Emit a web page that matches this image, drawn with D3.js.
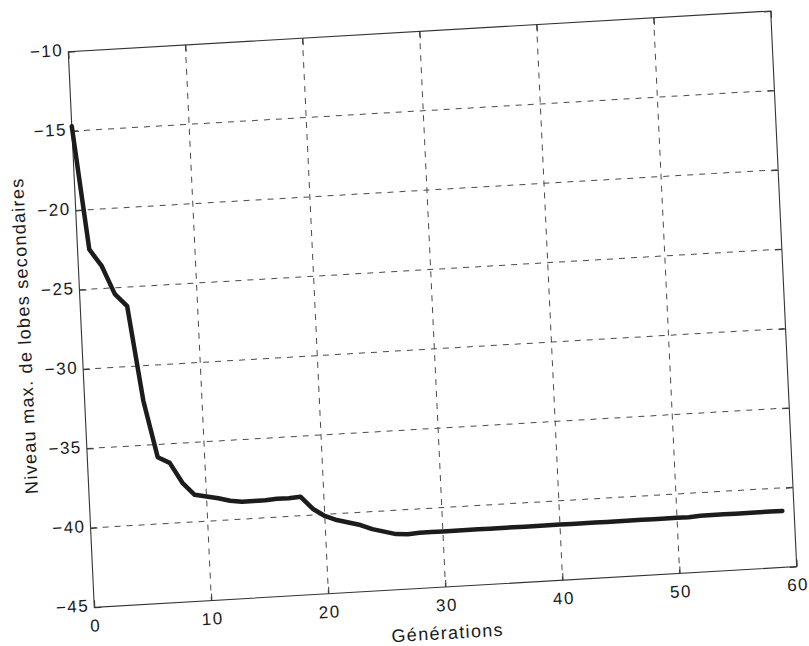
<!DOCTYPE html>
<html>
<head>
<meta charset="utf-8">
<script src="https://cdn.jsdelivr.net/npm/d3@7"></script>
<style>
  html, body { margin: 0; padding: 0; background: #ffffff; }
  svg { display: block; }
  text { font-family: "Liberation Sans", Arial, Helvetica, sans-serif; fill: #1a1a1a; }
</style>
</head>
<body>
<svg id="chart" width="809" height="646"></svg>
<script>
// ---- data ----
const generations = [0,1,2,3,4,5,6,7,8,9,10,11,12,13,14,15,16,17,18,19,20,21,22,23,24,25,26,27,28,29,
  30,31,32,33,34,35,36,37,38,39,40,41,42,43,44,45,46,47,48,49,50,51,52,53,54,55,56,57,58,59];
const sidelobeLevel = [-14.7,-22.5,-23.6,-25.4,-26.2,-32.2,-35.8,-36.2,-37.5,-38.3,
  -38.45,-38.6,-38.8,-38.9,-38.9,-38.9,-38.85,-38.85,-38.8,-39.6,
  -40.1,-40.4,-40.6,-40.8,-41.1,-41.3,-41.5,-41.55,-41.5,-41.5,
  -41.5,-41.5,-41.5,-41.5,-41.5,-41.5,-41.5,-41.5,-41.5,-41.5,
  -41.5,-41.5,-41.5,-41.5,-41.5,-41.5,-41.5,-41.5,-41.5,-41.5,
  -41.5,-41.5,-41.45,-41.45,-41.45,-41.45,-41.45,-41.45,-41.45,-41.45];
const xTicks = [0,10,20,30,40,50,60];
const yTicks = [-10,-15,-20,-25,-30,-35,-40,-45];
const xLabel = "Générations";
const yLabel = "Niveau max. de lobes secondaires";

// ---- layout (scanned page is slightly rotated) ----
const W = 703, H = 556;
const svg = d3.select("#chart");
const g = svg.append("g")
  .attr("transform", "matrix(0.99915,-0.05789,0.04676,0.99928,68.3,51.7)");

const x = d3.scaleLinear().domain([0, 60]).range([0, W]);
const y = d3.scaleLinear().domain([-45, -10]).range([H, 0]);

const gridColor = "#4a4a4a";

// grid lines
g.append("g").selectAll("line").data(xTicks.slice(1, -1)).join("line")
  .attr("x1", d => x(d)).attr("x2", d => x(d))
  .attr("y1", 0).attr("y2", H)
  .attr("stroke", gridColor).attr("stroke-width", 1)
  .attr("stroke-dasharray", "6,6");
g.append("g").selectAll("line").data(yTicks.slice(1, -1)).join("line")
  .attr("x1", 0).attr("x2", W)
  .attr("y1", d => y(d)).attr("y2", d => y(d))
  .attr("stroke", gridColor).attr("stroke-width", 1)
  .attr("stroke-dasharray", "6,6");

// axes
function styleAxis(sel, fs) {
  sel.select(".domain").remove();
  sel.selectAll(".tick line").attr("stroke", "#333").attr("stroke-width", 1);
  sel.selectAll(".tick text")
    .attr("fill", "#1a1a1a")
    .style("font-size", fs + "px")
    .style("letter-spacing", "1.5px")
    .style("font-family", '"Liberation Sans", Arial, sans-serif');
}
const fmt = d3.format("d");
g.append("g").attr("transform", `translate(0,${H})`)
  .call(d3.axisBottom(x).tickValues(xTicks).tickFormat(fmt).tickSizeInner(-7).tickSizeOuter(0).tickPadding(12))
  .call(s => styleAxis(s, 17));
g.append("g")
  .call(d3.axisLeft(y).tickValues(yTicks).tickFormat(fmt).tickSizeInner(-7).tickSizeOuter(0).tickPadding(5))
  .call(s => styleAxis(s, 17))
  .call(s => s.selectAll(".tick text").attr("dy", "0.2em"));
g.append("g")
  .call(d3.axisTop(x).tickValues(xTicks).tickFormat("").tickSizeInner(-7).tickSizeOuter(0))
  .call(s => styleAxis(s, 17));
g.append("g").attr("transform", `translate(${W},0)`)
  .call(d3.axisRight(y).tickValues(yTicks).tickFormat("").tickSizeInner(-7).tickSizeOuter(0))
  .call(s => styleAxis(s, 17));

// frame
g.append("rect").attr("x", 0).attr("y", 0).attr("width", W).attr("height", H)
  .attr("fill", "none").attr("stroke", "#333").attr("stroke-width", 1.1);

// data line
const pts = generations.map((gen, i) => [gen, sidelobeLevel[i]]);
g.append("path").datum(pts)
  .attr("fill", "none")
  .attr("stroke", "#1c1c1c")
  .attr("stroke-width", 4.5)
  .attr("stroke-linejoin", "round")
  .attr("stroke-linecap", "round")
  .attr("d", d3.line().x(d => x(d[0])).y(d => y(d[1])));

// axis labels
g.append("text")
  .attr("x", W / 2).attr("y", H + 52)
  .attr("text-anchor", "middle")
  .style("font-size", "18px").style("letter-spacing", "1.3px")
  .text(xLabel);
g.append("text")
  .attr("transform", `translate(-51,${H / 2 + 3}) rotate(-90)`)
  .attr("text-anchor", "middle")
  .style("font-size", "18px").style("letter-spacing", "1.3px")
  .text(yLabel);
</script>
</body>
</html>
